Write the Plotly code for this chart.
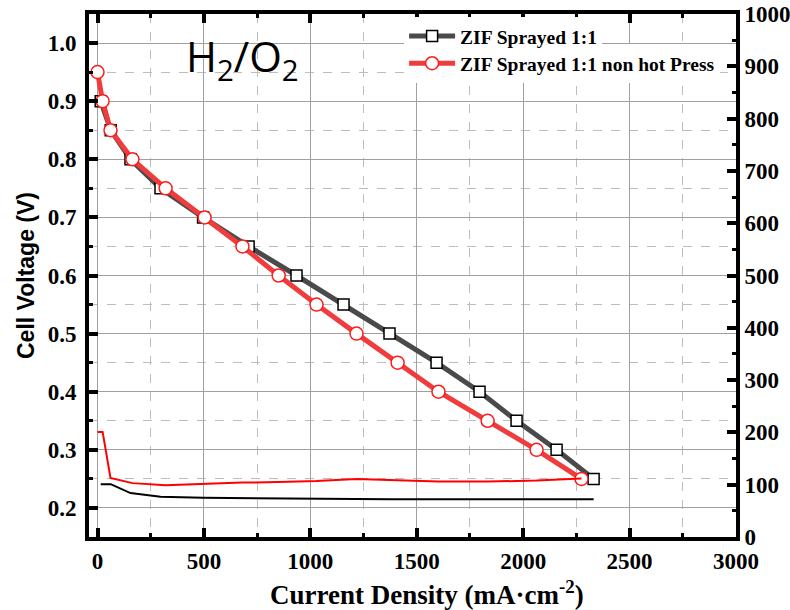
import plotly.graph_objects as go

# Polarization data (cell voltage vs current density)
current_hp = [15, 62, 155, 296, 496, 710, 935, 1156, 1372, 1593, 1795, 1969, 2157, 2331]
voltage_hp = [0.90, 0.85, 0.80, 0.75, 0.70, 0.65, 0.60, 0.55, 0.50, 0.45, 0.40, 0.35, 0.30, 0.25]

current_nhp = [0, 24, 61, 164, 320, 503, 681, 851, 1029, 1217, 1410, 1602, 1833, 2063, 2274]
voltage_nhp = [0.95, 0.90, 0.85, 0.80, 0.75, 0.70, 0.65, 0.60, 0.55, 0.50, 0.45, 0.40, 0.35, 0.30, 0.25]

# Secondary (right axis) curves
right_hp = [101, 101, 84, 77, 75, 74, 73, 73, 72, 72, 72, 72, 72, 72]
right_nhp = [201, 201, 113, 103, 99, 102, 104, 105, 107, 111, 109, 106, 106, 108, 112]

name_hp = "ZIF Sprayed 1:1"
name_nhp = "ZIF Sprayed 1:1 non hot Press"

SERIF = "Times New Roman, Liberation Serif, serif"
tick_font = dict(family=SERIF, size=23, color="black", weight="bold")
legend_font = dict(family=SERIF, size=19.5, color="black", weight="bold")
GRID = "#a0a0a0"
GRID_MINOR = "#bdbdbd"

fig = go.Figure()

# polarization curves on the voltage axis
# (upper legend row lives in legend2 so its box is drawn last)
fig.add_trace(go.Scatter(x=current_hp, y=voltage_hp, mode="lines+markers", yaxis="y",
                         name=name_hp, legend="legend2",
                         line=dict(color="#4a4a4a", width=5),
                         marker=dict(symbol="square", size=11, color="white",
                                     line=dict(color="black", width=1.5))))
fig.add_trace(go.Scatter(x=current_nhp, y=voltage_nhp, mode="lines+markers", yaxis="y",
                         name=name_nhp, legend="legend",
                         line=dict(color="#f03c3c", width=5),
                         marker=dict(symbol="circle", size=13, color="white",
                                     line=dict(color="#ff1a1a", width=1.5))))

# thin right-axis curves
fig.add_trace(go.Scatter(x=current_hp, y=right_hp, mode="lines", yaxis="y2",
                         line=dict(color="black", width=2), showlegend=False,
                         hoverinfo="skip"))
fig.add_trace(go.Scatter(x=current_nhp, y=right_nhp, mode="lines", yaxis="y2",
                         line=dict(color="#ff0000", width=2), showlegend=False,
                         hoverinfo="skip"))

fig.update_layout(
    width=790, height=610,
    margin=dict(l=89, r=54, t=14, b=73, autoexpand=False),
    plot_bgcolor="white", paper_bgcolor="white",
    showlegend=True,
    legend2=dict(x=0.487, y=0.9948, xanchor="left", yanchor="top",
                 bgcolor="white", borderwidth=0, font=legend_font, itemwidth=46),
    legend=dict(x=0.487, y=0.9426, xanchor="left", yanchor="top",
                bgcolor="white", borderwidth=0, font=legend_font, itemwidth=46),
    xaxis=dict(
        range=[-40, 3000], tick0=0, dtick=500, automargin=False,
        ticks="inside", ticklen=9, tickwidth=4, tickcolor="black",
        showline=True, linewidth=4, linecolor="black", mirror="ticks",
        showgrid=True, gridcolor=GRID, gridwidth=1, zeroline=False,
        minor=dict(dtick=250, ticks="inside", ticklen=4, tickwidth=3, tickcolor="black",
                   showgrid=True, gridcolor=GRID_MINOR, griddash="dash", gridwidth=1),
        tickfont=tick_font,
    ),
    yaxis=dict(
        side="left", range=[0.15, 1.05], tick0=0, dtick=0.1, automargin=False,
        tickformat=".1f", ticklabelstandoff=4,
        ticks="inside", ticklen=9, tickwidth=4, tickcolor="black",
        showline=True, linewidth=4, linecolor="black",
        showgrid=True, gridcolor=GRID, gridwidth=1, zeroline=False,
        minor=dict(dtick=0.05, ticks="inside", ticklen=4, tickwidth=3, tickcolor="black",
                   showgrid=True, gridcolor=GRID_MINOR, griddash="dash", gridwidth=1),
        tickfont=tick_font,
        title=dict(text="Cell Voltage (V)",
                   font=dict(family="Liberation Sans, Arial, sans-serif", size=23,
                             color="black", weight="bold"),
                   standoff=8),
    ),
    yaxis2=dict(
        side="right", overlaying="y", range=[0, 1000], tick0=0, dtick=100,
        automargin=False,
        ticks="inside", ticklen=9, tickwidth=4, tickcolor="black",
        showline=True, linewidth=4, linecolor="black",
        showgrid=False, zeroline=False,
        minor=dict(dtick=50, ticks="inside", ticklen=4, tickwidth=3, tickcolor="black",
                   showgrid=False),
        tickfont=tick_font,
    ),
)

# x-axis title
fig.add_annotation(
    text="Current Density (mA·cm<sup>-2</sup>)",
    xref="paper", yref="paper", x=0.522, y=-0.107,
    xanchor="center", yanchor="middle", showarrow=False,
    font=dict(family=SERIF, size=27, color="black", weight="bold"),
)

# gas label
fig.add_annotation(
    text="H<sub>2</sub>/O<sub>2</sub>",
    xref="paper", yref="paper", x=0.147, y=0.915,
    xanchor="left", yanchor="middle", showarrow=False,
    font=dict(family="Open Sans", size=42, color="black"),
)

fig.write_html("out.html")
